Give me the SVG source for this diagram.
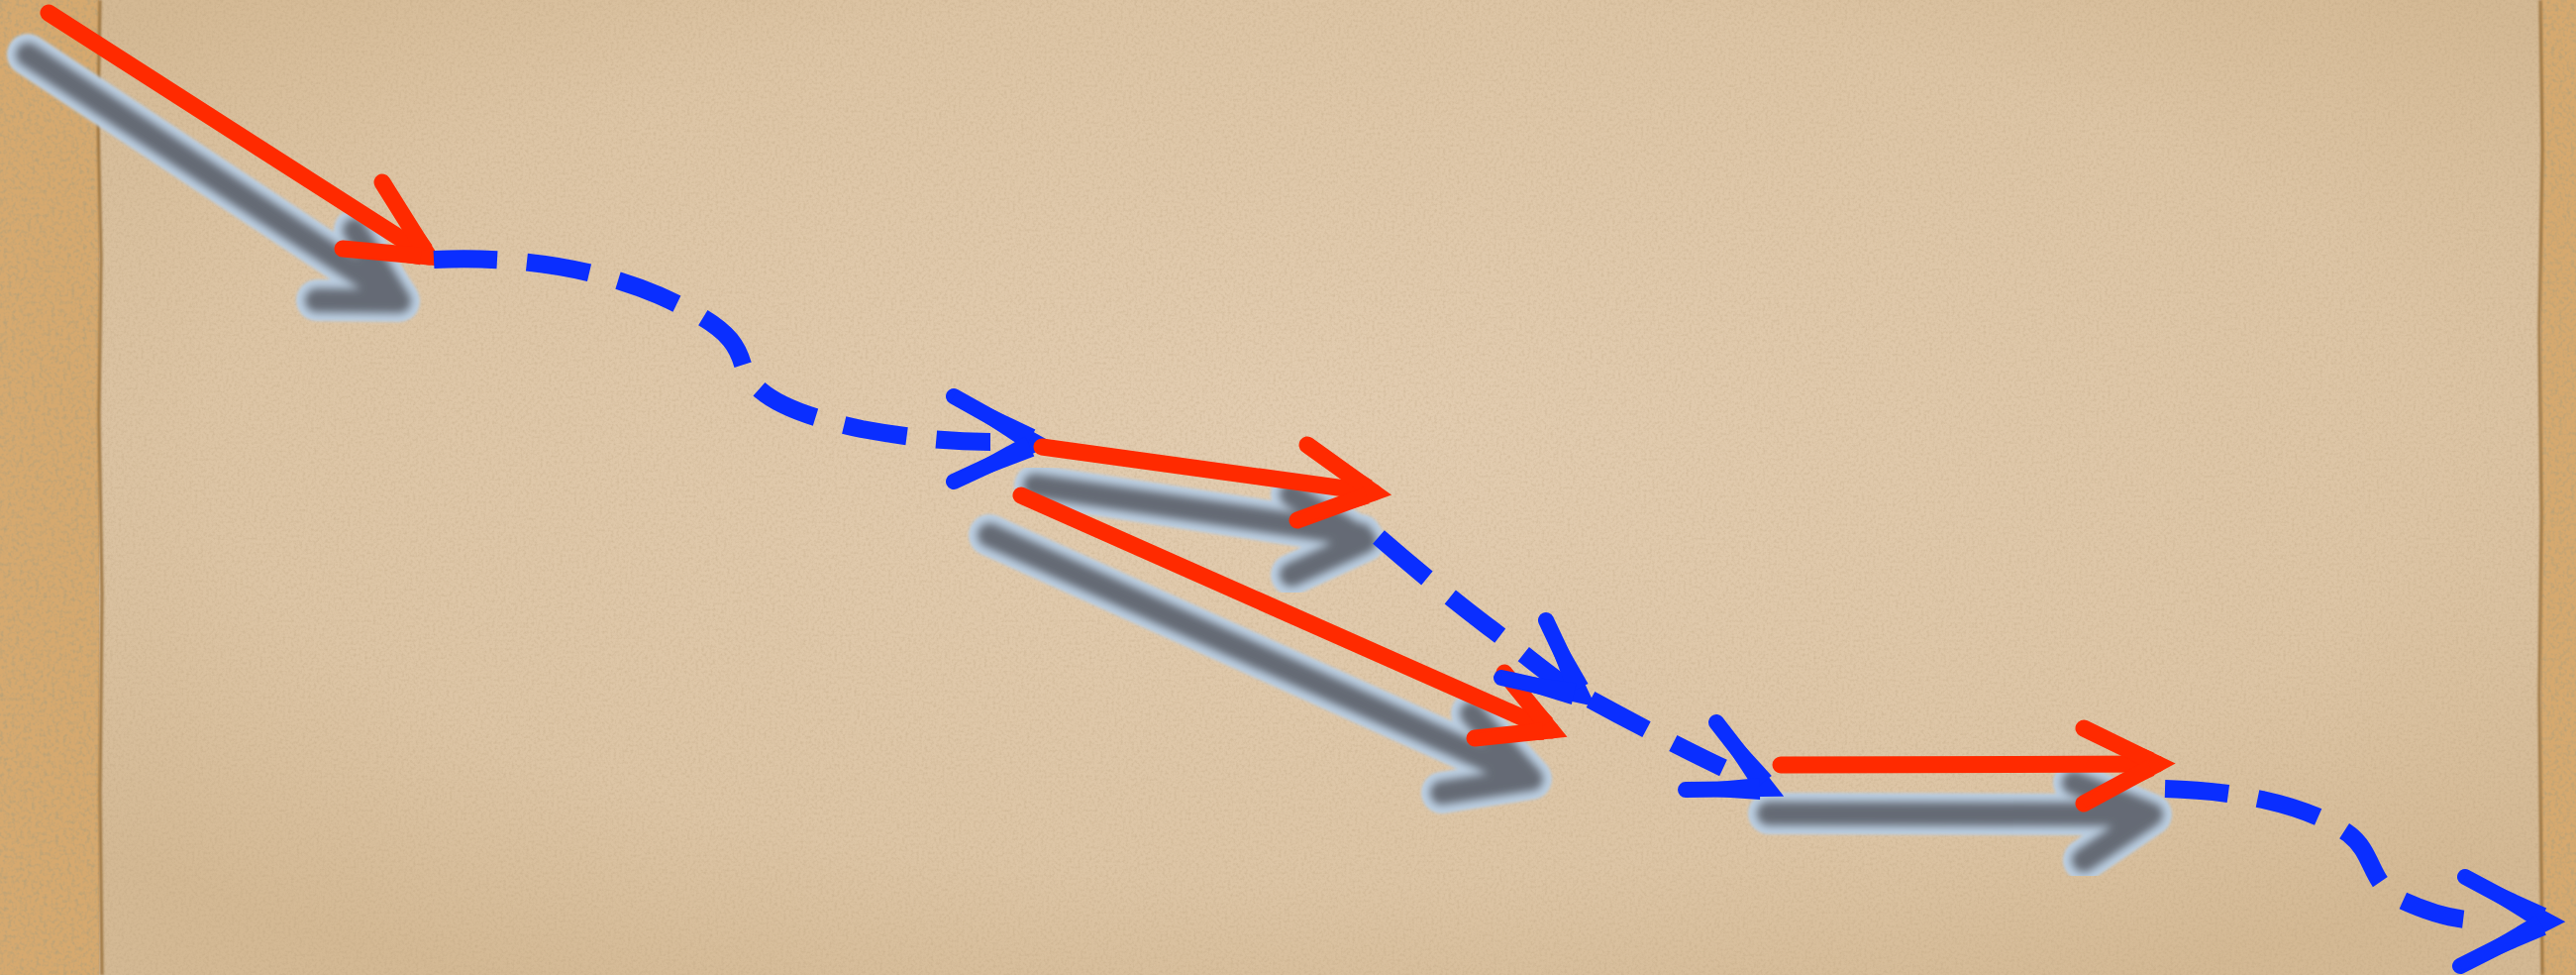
<svg xmlns="http://www.w3.org/2000/svg" width="2601" height="984" viewBox="0 0 2601 984">
<defs>
<radialGradient id="paperGrad" cx="50%" cy="45%" r="65%">
<stop offset="0" stop-color="#e3cdb1"/>
<stop offset="0.7" stop-color="#ddc5a5"/>
<stop offset="1" stop-color="#d4b994"/>
</radialGradient>
<filter id="noise" x="0" y="0" width="100%" height="100%">
<feTurbulence type="fractalNoise" baseFrequency="0.35" numOctaves="3" seed="4" result="n"/>
<feColorMatrix in="n" type="matrix" values="0 0 0 0 0.45  0 0 0 0 0.32  0 0 0 0 0.18  0 0 0 -1.2 0.7"/>
</filter>
<filter id="corknoise" x="0" y="0" width="100%" height="100%">
<feTurbulence type="fractalNoise" baseFrequency="0.25" numOctaves="3" seed="9" result="n"/>
<feColorMatrix in="n" type="matrix" values="0 0 0 0 0.5  0 0 0 0 0.36  0 0 0 0 0.18  0 0 0 -2.2 1.25"/>
</filter>
<filter id="halo" x="-20%" y="-20%" width="140%" height="140%"><feGaussianBlur stdDeviation="1.5"/></filter>
<filter id="core" x="-20%" y="-20%" width="140%" height="140%"><feGaussianBlur stdDeviation="4.5"/></filter>
<filter id="edge" x="-50%" y="-5%" width="200%" height="110%"><feGaussianBlur stdDeviation="1.2"/></filter>
</defs>
<style>
.red{fill:none;stroke:#ff2a00;stroke-width:17;stroke-linecap:round;stroke-linejoin:miter;stroke-miterlimit:10}
.rfill{fill:#ff2a00;stroke:none}
.blue{fill:none;stroke:#0a2eff;stroke-width:18;stroke-linecap:butt;stroke-linejoin:round;stroke-dasharray:64 30}
.bhead{fill:none;stroke:#0a2eff;stroke-width:16;stroke-linecap:round;stroke-linejoin:miter;stroke-miterlimit:10}
.bfill{fill:#0a2eff;stroke:none}
.shHalo{fill:none;stroke:#bccfe2;stroke-width:42;stroke-linecap:round;stroke-linejoin:round}
.shCore{fill:none;stroke:#656b74;stroke-width:24;stroke-linecap:round;stroke-linejoin:round}
</style>

<g id="background">
<rect x="0" y="0" width="2601" height="984" fill="#d6a96f"/>
<rect x="0" y="0" width="2601" height="984" filter="url(#corknoise)"/>
<rect x="100" y="0" width="2466" height="984" fill="url(#paperGrad)"/>
<rect x="100" y="0" width="2466" height="984" filter="url(#noise)" opacity="0.5"/>
<g filter="url(#edge)">
<path d="M101,0 L99,120 L102,260 L100,420 L103,600 L101,800 L103,984" fill="none" stroke="#9c7440" stroke-width="3"/>
<path d="M2565,0 L2567,150 L2564,330 L2566,520 L2564,700 L2567,984" fill="none" stroke="#9c7440" stroke-width="3"/>
</g>
</g>

<g id="connectors">
<g id="shadow-1">
<g filter="url(#halo)" class="shHalo"><path d="M28,55 L402,302"/><path d="M358,232 L403,304 L320,303"/></g>
<g filter="url(#core)" class="shCore"><path d="M28,55 L402,302"/><path d="M358,232 L403,304 L320,303"/></g>
</g>
<g id="shadow-2">
<g filter="url(#halo)" class="shHalo"><path d="M1045,490 L1374,540"/><path d="M1304,499 L1378,546 L1304,580"/></g>
<g filter="url(#core)" class="shCore"><path d="M1045,490 L1374,540"/><path d="M1304,499 L1378,546 L1304,580"/></g>
</g>
<g id="shadow-3">
<g filter="url(#halo)" class="shHalo"><path d="M999,540 L1542,785"/><path d="M1486,720 L1546,786 L1456,800"/></g>
<g filter="url(#core)" class="shCore"><path d="M999,540 L1542,785"/><path d="M1486,720 L1546,786 L1456,800"/></g>
</g>
<g id="shadow-4">
<g filter="url(#halo)" class="shHalo"><path d="M1786,821 L2170,822"/><path d="M2094,790 L2172,822 L2104,868"/></g>
<g filter="url(#core)" class="shCore"><path d="M1786,821 L2170,822"/><path d="M2094,790 L2172,822 L2104,868"/></g>
</g>

<g id="red-1">
<path class="red" d="M49,13 L433,259"/>
<path class="red" d="M386,184 L433,259 L346,251"/>
<polygon class="rfill" points="382.6,186.1 421.2,257.0 436.4,247.4 389.4,181.9"/>
<polygon class="rfill" points="345.6,255.0 424.2,267.3 425.8,249.3 346.4,247.0"/>
</g>
<g id="blue-1">
<path class="blue" d="M438,262 C520,258 600,270 665,298 C725,325 742,340 750,368 C760,400 800,418 870,433 C930,444 970,446 1000,446"/>
<path class="bhead" d="M963,400 L1047,447 L963,486"/>
<polygon class="bfill" points="960.6,404.4 1034.6,452.7 1045.4,433.5 965.4,395.6"/>
<polygon class="bfill" points="965.1,490.5 1044.3,460.4 1035.1,440.4 960.9,481.5"/>
</g>
<g id="red-2">
<path class="red" d="M1052,451 L1387,497"/>
<path class="red" d="M1320,449 L1387,497 L1310,525"/>
<polygon class="rfill" points="1317.7,452.3 1375.3,499.6 1385.7,485.0 1322.3,445.7"/>
<polygon class="rfill" points="1311.4,528.8 1382.6,508.2 1376.4,491.2 1308.6,521.2"/>
</g>
<g id="red-3">
<path class="red" d="M1031,500 L1566,737"/>
<path class="red" d="M1519,679 L1566,737 L1489,745"/>
<polygon class="rfill" points="1515.9,681.5 1554.0,736.5 1568.0,725.1 1522.1,676.5"/>
<polygon class="rfill" points="1489.4,749.0 1558.9,746.8 1557.1,728.8 1488.6,741.0"/>
</g>
<g id="blue-2">
<path class="blue" d="M1392,542 C1430,575 1470,608 1502,632 C1535,656 1565,684 1596,702"/>
<path class="bhead" d="M1561,626 L1597,702 L1516,684"/>
<polygon class="bfill" points="1556.5,628.1 1583.7,699.5 1603.5,690.1 1565.5,623.9"/>
<polygon class="bfill" points="1514.9,688.9 1586.8,711.0 1591.6,689.6 1517.1,679.1"/>
</g>
<g id="blue-3">
<path class="blue" d="M1606,706 C1650,730 1700,756 1740,775"/>
<path class="bhead" d="M1733,729 L1785,796 L1702,797"/>
<polygon class="bfill" points="1729.1,732.1 1771.4,796.4 1788.8,783.0 1737.0,725.9"/>
<polygon class="bfill" points="1702.1,802 1777.1,807.1 1776.9,785.1 1701.9,792"/>
</g>
<g id="red-4">
<path class="red" d="M1798,772 L2178,771"/>
<path class="red" d="M2104,735 L2178,771 L2104,811"/>
<polygon class="rfill" points="2102.3,738.6 2166.9,775.6 2174.7,759.4 2105.7,731.4"/>
<polygon class="rfill" points="2105.9,814.5 2175.3,782.7 2166.7,766.9 2102.1,807.5"/>
</g>
<g id="blue-4">
<path class="blue" d="M2186,796 C2260,798 2330,812 2372,842 C2398,862 2392,892 2424,908 C2450,920 2470,926 2490,928"/>
<path class="bhead" d="M2489,885 L2573,930 L2484,975"/>
<polygon class="bfill" points="2486.6,889.4 2560.8,935.9 2571.2,916.5 2491.4,880.6"/>
<polygon class="bfill" points="2486.3,979.5 2570.9,943.4 2560.9,923.8 2481.7,970.5"/>
</g>
</g>
</svg>
